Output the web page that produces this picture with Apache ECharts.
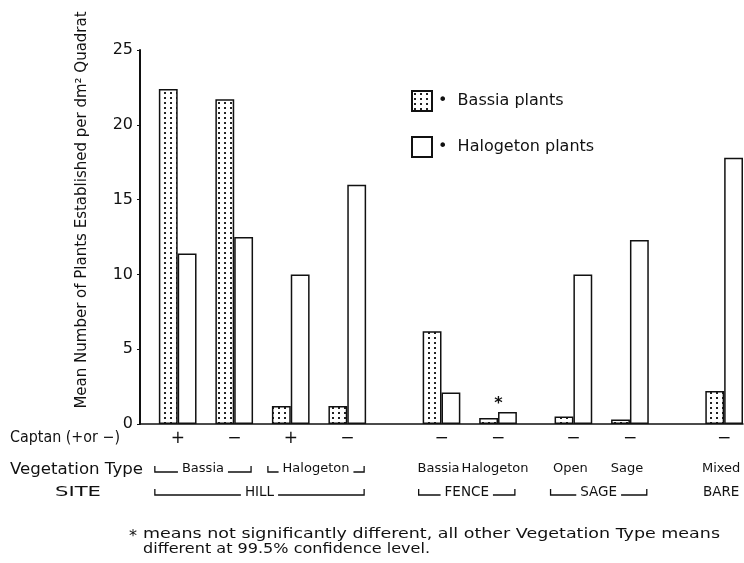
<!DOCTYPE html>
<html>
<head>
<meta charset="utf-8">
<script src="https://cdn.jsdelivr.net/npm/echarts@6/dist/echarts.min.js"></script>
<style>
  html, body { margin: 0; padding: 0; background: #fff; }
  #chart { width: 744px; height: 563px; }
</style>
</head>
<body>
<div id="chart"></div>
<script>
// Treatment groups, left to right
const captan = ['+', '−', '+', '−', '−', '−', '−', '−', '−'];
const vegetationType = ['Bassia', 'Bassia', 'Halogeton', 'Halogeton', 'Bassia', 'Halogeton', 'Open', 'Sage', 'Mixed'];
const site = ['HILL', 'HILL', 'HILL', 'HILL', 'FENCE', 'FENCE', 'SAGE', 'SAGE', 'BARE'];

// Mean number of plants established per dm² quadrat
const bassiaPlants = [22.4, 21.7, 1.2, 1.2, 6.2, 0.4, 0.5, 0.3, 2.2];
const halogetonPlants = [11.4, 12.5, 10.0, 16.0, 2.1, 0.8, 10.0, 12.3, 17.8];
// Vegetation types whose means are not significantly different
const notSignificant = [false, false, false, false, false, true, false, false, false];

const yTicks = [0, 5, 10, 15, 20, 25];

const FONT = 'DejaVu Sans';
const INK = '#111';

// Slot layout: each bar takes one slot; blank slots separate groups and sites
const leadingBlank = 1;
const blanksAfter = [1, 1, 1, 3, 1, 2, 1, 3];
const slotNames = [];
const bassiaSlots = [];
const halogetonSlots = [];
const groupSlot = [];
function pad() { slotNames.push('pad' + slotNames.length); bassiaSlots.push('-'); halogetonSlots.push('-'); }
for (let i = 0; i < leadingBlank; i++) pad();
captan.forEach((c, g) => {
  groupSlot.push(slotNames.length);
  slotNames.push('b' + g); bassiaSlots.push(bassiaPlants[g]); halogetonSlots.push('-');
  slotNames.push('h' + g); bassiaSlots.push('-');
  halogetonSlots.push(notSignificant[g]
    ? { value: halogetonPlants[g], label: { show: true, position: 'top', offset: [-9, 0], formatter: '*', fontSize: 16, fontWeight: 'bold', color: INK, distance: 0 } }
    : halogetonPlants[g]);
  const n = g < blanksAfter.length ? blanksAfter[g] : 0;
  for (let k = 0; k < n; k++) pad();
});

// Stippled fill for Bassia bars
function stipple() {
  const c = document.createElement('canvas');
  c.width = 6; c.height = 5;
  const ctx = c.getContext('2d');
  ctx.fillStyle = '#fff';
  ctx.fillRect(0, 0, 6, 5);
  ctx.fillStyle = '#222';
  ctx.fillRect(2, 2, 2, 2);
  return c;
}

const chart = echarts.init(document.getElementById('chart'), null, { renderer: 'canvas' });

const option = {
  animation: false,
  backgroundColor: '#fff',
  textStyle: { fontFamily: FONT, color: INK },
  grid: { left: 140, right: 1, top: 50, bottom: 139 },
  legend: {
    orient: 'vertical',
    left: 406,
    top: 85,
    icon: 'rect',
    itemWidth: 20,
    itemHeight: 20,
    itemGap: 24,
    selectedMode: false,
    formatter: name => '•  ' + name,
    textStyle: { fontFamily: FONT, fontSize: 16, color: INK, padding: [0, 0, 0, 1] },
    data: ['Bassia plants', 'Halogeton plants']
  },
  xAxis: {
    type: 'category',
    data: slotNames,
    axisLine: { lineStyle: { color: INK, width: 1.5 } },
    axisTick: { show: false },
    axisLabel: {
      interval: 0,
      margin: 6,
      formatter: (v, idx) => {
        const g = groupSlot.indexOf(idx);
        return g >= 0 ? '{s|' + captan[g] + '}' : '';
      },
      rich: { s: { fontSize: 17, fontFamily: FONT, color: INK, padding: [0, 0, 0, 19] } }
    }
  },
  yAxis: {
    type: 'value',
    min: yTicks[0],
    max: yTicks[yTicks.length - 1],
    interval: yTicks[1] - yTicks[0],
    name: 'Mean Number of Plants Established per dm² Quadrat',
    nameLocation: 'middle',
    nameRotate: 90,
    nameGap: 50,
    nameTextStyle: { fontFamily: FONT, fontSize: 15, color: INK, padding: [0, 0, 0, 54] },
    axisLine: { show: true, lineStyle: { color: INK, width: 2 } },
    axisTick: { show: true, length: 3, lineStyle: { color: INK, width: 1 } },
    axisLabel: { fontSize: 16, color: INK, margin: 7, fontFamily: FONT },
    splitLine: { show: false }
  },
  series: [
    {
      name: 'Bassia plants',
      type: 'bar',
      stack: 'slot',
      barCategoryGap: '0%',
      data: bassiaSlots,
      itemStyle: { color: { image: stipple(), repeat: 'repeat' }, borderColor: INK, borderWidth: 1.5 }
    },
    {
      name: 'Halogeton plants',
      type: 'bar',
      stack: 'slot',
      barCategoryGap: '0%',
      data: halogetonSlots,
      itemStyle: { color: '#fff', borderColor: INK, borderWidth: 1.5 }
    }
  ]
};

chart.setOption(option);

// Row annotations under the axis, positioned through the category axis
const measure = document.createElement('canvas').getContext('2d');
function textWidth(t, size) { measure.font = size + 'px "' + FONT + '"'; return measure.measureText(t).width; }
function slotX(i) { return chart.convertToPixel({ xAxisIndex: 0 }, i); }
const slotW = slotX(1) - slotX(0);

const graphics = [];
// Lettering in this figure is wide; fitWidth stretches a line horizontally to a given width
function text(x, y, t, size, align, fitWidth) {
  const sx = fitWidth ? fitWidth / textWidth(t, size) : 1;
  graphics.push({
    type: 'text', x: x, y: y, scaleX: sx,
    style: { text: t, fontFamily: FONT, fontSize: size, fill: INK, align: align || 'center', verticalAlign: 'middle' }
  });
}
function bracket(x1, x2, y, t, size) {
  const xc = (x1 + x2) / 2;
  const hw = textWidth(t, size) / 2 + 4;
  const ls = { stroke: INK, lineWidth: 1.3, fill: null };
  graphics.push({ type: 'polyline', shape: { points: [[x1, y - 6], [x1, y], [xc - hw, y]] }, style: ls });
  graphics.push({ type: 'polyline', shape: { points: [[xc + hw, y], [x2, y], [x2, y - 6]] }, style: ls });
  text(xc, y - 3, t, size);
}
function rowGroups(keys) {
  const runs = [];
  keys.forEach((k, g) => {
    const last = runs[runs.length - 1];
    if (last && last.key === k && site[last.end] === site[g]) last.end = g;
    else runs.push({ key: k, start: g, end: g });
  });
  return runs;
}
function drawRow(keys, y, size) {
  rowGroups(keys).forEach(r => {
    const left = slotX(groupSlot[r.start]) - slotW / 2;
    const right = slotX(groupSlot[r.end] + 1) + slotW / 2;
    if (r.end > r.start) bracket(left - 4, right - 2, y, r.key, size);
    else text((left + right) / 2 - 3, y - 3, r.key, size);
  });
}
drawRow(vegetationType, 472, 13);
drawRow(site, 495, 13.5);

text(10, 438, 'Captan (+or −)', 15, 'left', 110);
text(10, 470, 'Vegetation Type', 15, 'left', 133);
text(55, 492, 'SITE', 14, 'left', 46);
text(129, 537, '*', 16, 'left');
text(143, 534, 'means not significantly different, all other Vegetation Type means', 14, 'left', 577);
text(143, 549, 'different at 99.5% confidence level.', 14, 'left', 287);

chart.setOption({ graphic: graphics });
</script>
</body>
</html>
